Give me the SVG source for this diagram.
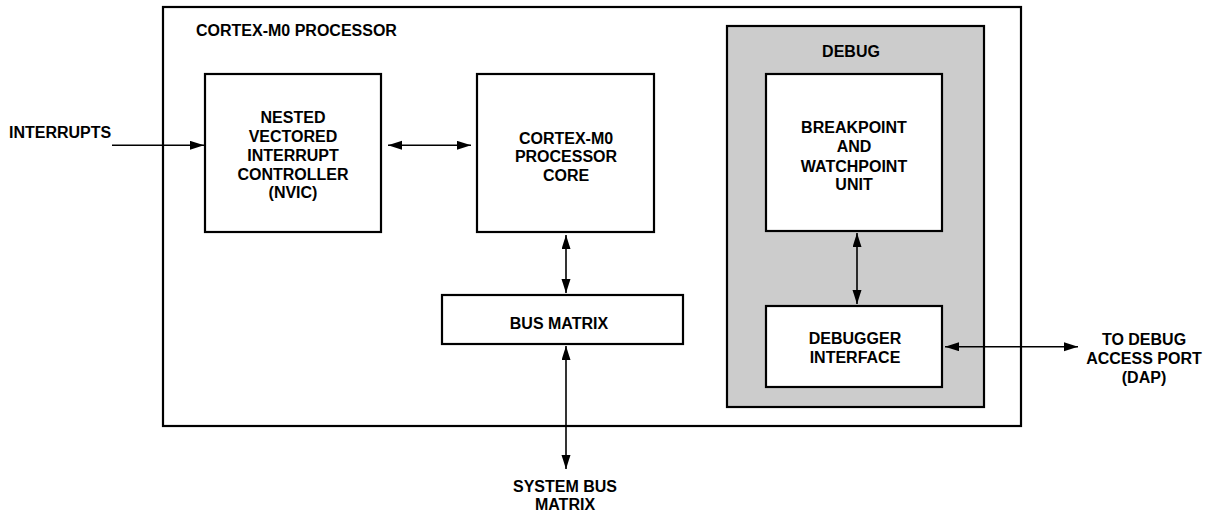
<svg xmlns="http://www.w3.org/2000/svg" width="1208" height="516" viewBox="0 0 1208 516">
<style>
.box{fill:#fff;stroke:#000;stroke-width:2.2}
.gray{fill:#cccccc;stroke:#000;stroke-width:2.2}
text{font-family:"Liberation Sans",Arial,sans-serif;font-weight:bold;font-size:16px;fill:#000}
.c{text-anchor:middle}
.conn line{stroke:#000;stroke-width:1.6;fill:none}
</style>
<defs>
<marker id="ah" markerUnits="userSpaceOnUse" markerWidth="16" markerHeight="10" refX="14" refY="4.5" orient="auto-start-reverse">
<path d="M0,0 L14,4.5 L0,9 z" fill="#000"/>
</marker>
</defs>
<rect width="1208" height="516" fill="#fff"/>
<g id="processor">
<rect class="box" x="163" y="7" width="858" height="419"/>
<text x="196" y="36">CORTEX-M0 PROCESSOR</text>
</g>
<g id="debug">
<rect class="gray" x="727" y="26" width="257" height="381"/>
<text class="c" x="851" y="57">DEBUG</text>
</g>
<g id="nvic">
<rect class="box" x="205" y="74" width="176" height="158"/>
<text class="c" x="293" y="122.5">NESTED</text>
<text class="c" x="293" y="141.5">VECTORED</text>
<text class="c" x="293" y="160.5">INTERRUPT</text>
<text class="c" x="293" y="179.5">CONTROLLER</text>
<text class="c" x="293" y="198">(NVIC)</text>
</g>
<g id="core">
<rect class="box" x="477" y="74" width="177" height="158"/>
<text class="c" x="566" y="144">CORTEX-M0</text>
<text class="c" x="566" y="162.3">PROCESSOR</text>
<text class="c" x="566" y="180.7">CORE</text>
</g>
<g id="busmatrix">
<rect class="box" x="442" y="295" width="241" height="49"/>
<text class="c" x="559" y="328.5">BUS MATRIX</text>
</g>
<g id="bwu">
<rect class="box" x="766" y="74" width="176" height="157"/>
<text class="c" x="854" y="133.3">BREAKPOINT</text>
<text class="c" x="854" y="152.3">AND</text>
<text class="c" x="854" y="171.5">WATCHPOINT</text>
<text class="c" x="854" y="190.3">UNIT</text>
</g>
<g id="dbgif">
<rect class="box" x="766" y="306" width="176" height="81"/>
<text class="c" x="855" y="344">DEBUGGER</text>
<text class="c" x="855" y="362.7">INTERFACE</text>
</g>
<g id="interrupts">
<text x="9" y="137.7">INTERRUPTS</text>
</g>
<g id="dap">
<text class="c" x="1144" y="345">TO DEBUG</text>
<text class="c" x="1144" y="364">ACCESS PORT</text>
<text class="c" x="1144" y="382.5">(DAP)</text>
</g>
<g id="sysbus">
<text class="c" x="565" y="491.7">SYSTEM BUS</text>
<text class="c" x="565" y="510">MATRIX</text>
</g>
<g id="connectors" class="conn">
<line x1="112" y1="145.3" x2="204" y2="145.3" marker-end="url(#ah)"/>
<line x1="388" y1="145.3" x2="471" y2="145.3" marker-start="url(#ah)" marker-end="url(#ah)"/>
<line x1="566" y1="235" x2="566" y2="293" marker-start="url(#ah)" marker-end="url(#ah)"/>
<line x1="566" y1="346" x2="566" y2="469" marker-start="url(#ah)" marker-end="url(#ah)"/>
<line x1="857" y1="233" x2="857" y2="304" marker-start="url(#ah)" marker-end="url(#ah)"/>
<line x1="945" y1="346.7" x2="1078" y2="346.7" marker-start="url(#ah)" marker-end="url(#ah)"/>
</g>
</svg>
